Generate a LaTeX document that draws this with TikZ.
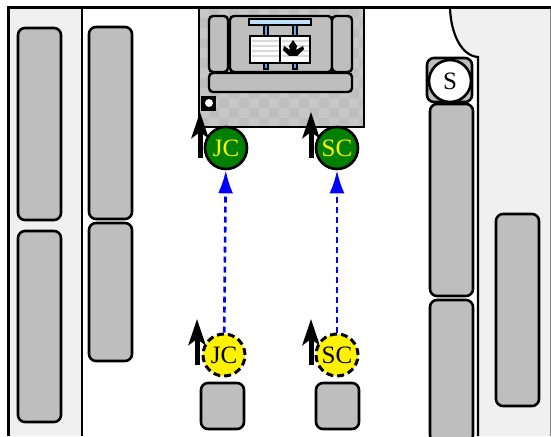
\documentclass[tikz,border=0pt]{standalone}
\usepackage{fontspec}
\setmainfont{Liberation Serif}
\usetikzlibrary{arrows.meta}

\definecolor{seatgray}{HTML}{BEBEBE}
\definecolor{floorgray}{HTML}{F0F0F0}
\definecolor{checkgray}{HTML}{C7C7C7}
\definecolor{rodblue}{HTML}{5AA5F0}
\definecolor{barblue}{HTML}{BFE2FA}
\definecolor{agentgreen}{HTML}{008000}

\tikzset{
	seat/.style={draw=black,line width=2.6pt,fill=seatgray,rounded corners=7pt},
	cushion/.style={draw=black,line width=2.4pt,fill=seatgray,rounded corners=4pt},
	agent/.style={circle,draw=black,line width=2.6pt,minimum size=42pt,inner sep=0pt,font=\fontsize{25}{25}\selectfont},
	before/.style={agent,fill=yellow,line width=3pt,dash pattern=on 7pt off 4pt},
	after/.style={agent,fill=agentgreen,text=yellow},
	heading/.style={line width=5pt,-{Stealth[length=26pt,width=17pt,inset=6pt]}},
	route/.style={draw=blue,line width=2.6pt,dash pattern=on 6pt off 4pt,-{Latex[length=23pt,width=15pt]}}
}

\begin{document}
\begin{tikzpicture}[x=1pt,y=-1pt]
	\useasboundingbox (0,0) rectangle (551,436);

	% floor
	\fill [floorgray] (8,8) rectangle (82,436);
	\fill [floorgray] (450,8) .. controls (451,35) and (462,56) .. (478,57) -- (478,436) -- (550,436) -- (550,8) -- cycle;
	\draw [line width=1pt,gray] (550,8) -- (550,436);
	\draw [line width=2.4pt] (82,8) -- (82,436);
	\draw [line width=2.2pt] (450,8) .. controls (451,35) and (462,56) .. (478,57) -- (478,436);
	\draw [line width=3pt] (8,436) -- (8,8) -- (551,8);

	% seats
	\foreach \xa/\ya/\xb/\yb in {18/28/61/220,18/231/61/422,89/27/132/219,89/223/132/361,
		430/104/473/296,430/300/473/442,496/214/539/406,201/383/244/429,316/383/359/429,427/58/472/102}
		\draw [seat] (\xa,\ya) rectangle (\xb,\yb);

	% rug
	\fill [seatgray] (199,8) rectangle (364,127);
	\begin{scope}
	\clip (199,8) rectangle (364,127);
	\foreach \i in {0,...,16}
		\foreach \j in {0,...,11} {
			\pgfmathparse{int(mod(\i+\j,2))}
			\ifnum\pgfmathresult=0
				\fill [checkgray] (199+\i*10,8+\j*10) rectangle (209+\i*10,18+\j*10);
			\fi
		}
	\end{scope}
	\draw [line width=2.6pt] (199,8) rectangle (364,127);

	% couch
	\draw [cushion] (209,16) rectangle (228,72);
	\draw [cushion] (230,16) rectangle (332,72);
	\draw [cushion] (332,16) rectangle (352,72);
	\draw [cushion] (209,73) rectangle (352,92);

	% table
	\draw [line width=1.5pt,fill=rodblue] (264,25) rectangle (268,69);
	\draw [line width=1.5pt,fill=rodblue] (293,25) rectangle (297,69);
	\draw [line width=2pt,fill=barblue] (249,19) rectangle (311,25);
	\draw [line width=2pt,fill=white] (250,36) rectangle (280,63);
	\draw [line width=2pt,fill=white] (280,36) rectangle (310,63);
	\foreach \y in {41,46,...,60} {
		\draw [line width=1.5pt,black!15] (252,\y) -- (279,\y);
		\draw [line width=1.5pt,black!15] (282,\y) -- (309,\y);
	}
	\fill (293,40) -- (297,46) -- (296,50) -- (303,46) -- (304,49) -- (297,56) -- (289,56) -- (283,50) -- (284,46) -- (290,50) -- (289,46) -- cycle;

	% switch
	\fill (201,96) rectangle (216,111);
	\fill [white] (209,103) circle (4pt);

	% nodes
	\node [agent,fill=white] (stove) at (450,81) {S};

	\coordinate (jcstart) at (200,158);
	\coordinate (jctip) at (200,112);
	\coordinate (scstart) at (311,158);
	\coordinate (sctip) at (311,112);
	\coordinate (jcoldstart) at (197,365);
	\coordinate (jcoldtip) at (197,319);
	\coordinate (scoldstart) at (311,365);
	\coordinate (scoldtip) at (311,319);
	\draw [heading] (jcstart) -- (jctip);
	\draw [heading] (scstart) -- (sctip);
	\draw [heading] (jcoldstart) -- (jcoldtip);
	\draw [heading] (scoldstart) -- (scoldtip);

	\node [after] (jc) at (226,148) {JC};
	\node [after] (sc) at (337,148) {SC};
	\node [before] (jcold) at (224,355) {JC};
	\node [before] (scold) at (337,355) {SC};

	\draw [route] (jcold) -- (jc);
	\draw [route] (scold) -- (sc);
\end{tikzpicture}
\end{document}
